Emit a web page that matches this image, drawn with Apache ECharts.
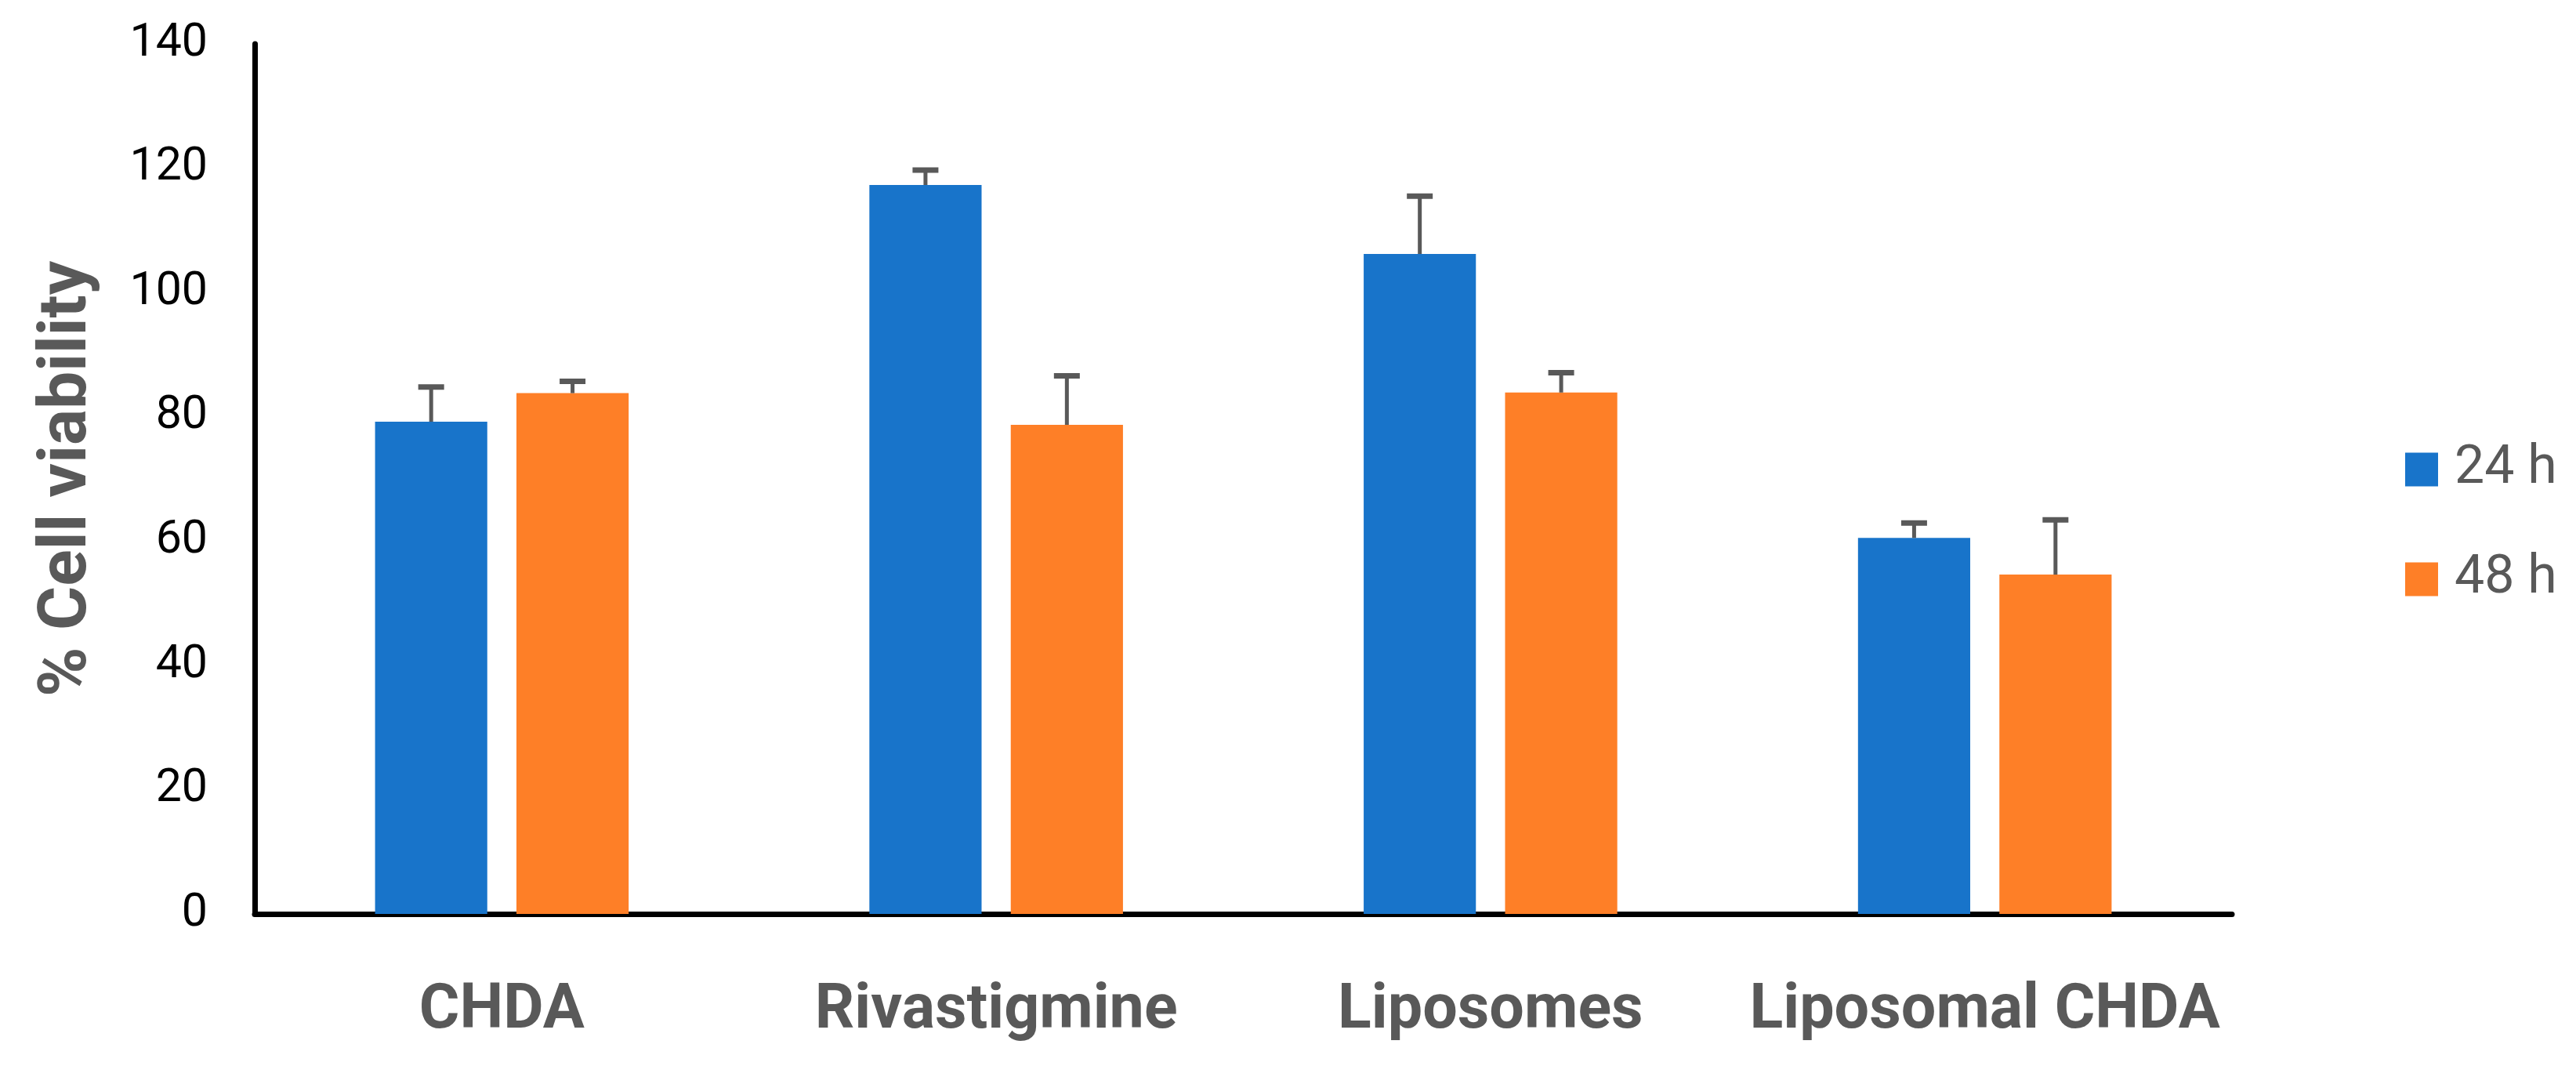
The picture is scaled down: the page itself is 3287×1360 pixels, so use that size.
<!DOCTYPE html>
<html>
<head>
<meta charset="utf-8">
<script src="https://cdn.jsdelivr.net/npm/echarts@6/dist/echarts.min.js"></script>
<style>
html,body{margin:0;padding:0;background:#fff;}
#c{width:3287px;height:1360px;}
</style>
</head>
<body>
<div id="c"></div>
<script>
const categories = ['CHDA', 'Rivastigmine', 'Liposomes', 'Liposomal CHDA'];
const seriesNames = ['24 h', '48 h'];
const values24 = [79.2, 117.3, 106.2, 60.5];
const values48 = [83.8, 78.7, 83.9, 54.6];
const err24 = [5.6, 2.4, 9.3, 2.4];
const err48 = [1.9, 7.9, 3.2, 8.8];
const yTicks = { min: 0, max: 140, interval: 20 };

const colors = ['#1874CA', '#FE7F27'];
const errColor = '#595959';
const barWidthFrac = 0.227;
const barGapFrac = 0.26;
const offsetFrac = (barWidthFrac + barWidthFrac * barGapFrac) / 2;

function errorSeries(vals, errs, sign) {
  return {
    type: 'custom',
    silent: true,
    z: 5,
    data: vals.map((v, i) => [i, v, v + errs[i]]),
    renderItem: function (params, api) {
      const band = api.size([1, 0])[0];
      const base = api.coord([api.value(0), api.value(1)]);
      const top = api.coord([api.value(0), api.value(2)]);
      const cx = base[0] + sign * offsetFrac * band;
      const capW = 33;
      return {
        type: 'group',
        children: [
          { type: 'line', shape: { x1: cx, y1: base[1], x2: cx, y2: top[1] },
            style: { stroke: errColor, lineWidth: 5 } },
          { type: 'line', shape: { x1: cx - capW / 2, y1: top[1], x2: cx + capW / 2, y2: top[1] },
            style: { stroke: errColor, lineWidth: 7 } }
        ]
      };
    }
  };
}

const chart = echarts.init(document.getElementById('c'), null, { renderer: 'canvas' });
chart.setOption({
  backgroundColor: '#fff',
  animation: false,
  textStyle: { fontFamily: 'Roboto' },
  grid: { left: 325, right: 439, top: 56, bottom: 194, containLabel: false },
  legend: {
    orient: 'vertical',
    left: 3064,
    top: 560,
    itemWidth: 42,
    itemHeight: 43,
    itemGap: 72,
    icon: 'rect',
    data: seriesNames,
    textStyle: { color: '#595959', fontSize: 68, fontFamily: 'Roboto', padding: [0, 0, 0, 16] }
  },
  xAxis: {
    type: 'category',
    data: categories,
    axisLine: { show: true, lineStyle: { color: '#000', width: 7 } },
    axisTick: { show: false },
    axisLabel: { interval: 0, color: '#595959', fontSize: 79, fontWeight: 'bold', fontFamily: 'Roboto', margin: 86 }
  },
  yAxis: {
    type: 'value',
    min: yTicks.min,
    max: yTicks.max,
    interval: yTicks.interval,
    name: '% Cell viability',
    nameLocation: 'middle',
    nameGap: 195,
    nameRotate: 90,
    nameTextStyle: { color: '#595959', fontSize: 86, fontWeight: 'bold', fontFamily: 'Roboto' },
    axisLine: { show: true, lineStyle: { color: '#000', width: 7 } },
    axisTick: { show: false },
    splitLine: { show: false },
    axisLabel: { color: '#000', fontSize: 59, fontFamily: 'Roboto', margin: 60 }
  },
  series: [
    { name: seriesNames[0], type: 'bar', data: values24, barWidth: (barWidthFrac * 100) + '%',
      barGap: (barGapFrac * 100) + '%', itemStyle: { color: colors[0] } },
    { name: seriesNames[1], type: 'bar', data: values48, barWidth: (barWidthFrac * 100) + '%',
      barGap: (barGapFrac * 100) + '%', itemStyle: { color: colors[1] } },
    errorSeries(values24, err24, -1),
    errorSeries(values48, err48, 1)
  ]
});
</script>
</body>
</html>
